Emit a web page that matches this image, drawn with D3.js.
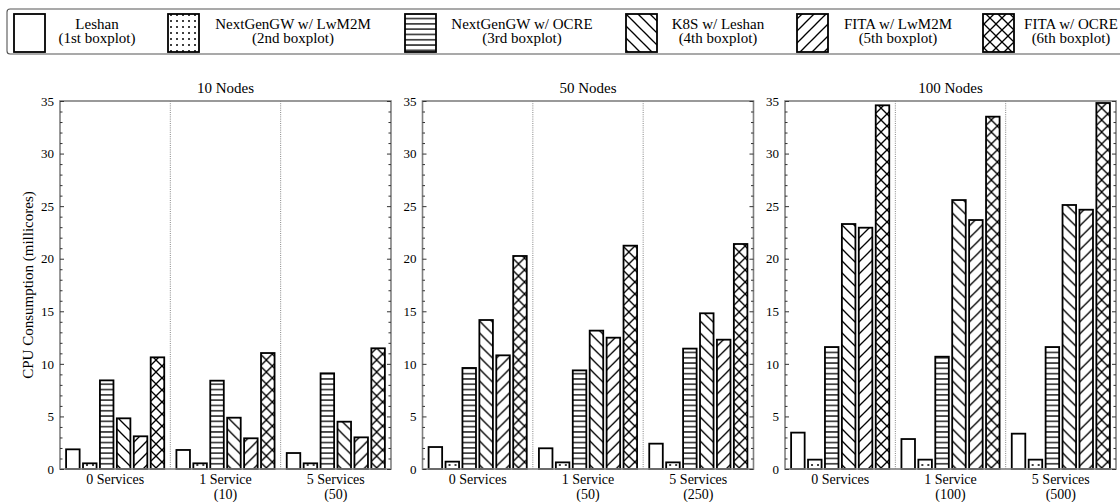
<!DOCTYPE html>
<html>
<head>
<meta charset="utf-8">
<script src="https://cdn.jsdelivr.net/npm/d3@7"></script>
<style>
  html, body { margin: 0; padding: 0; background: #fff; }
  svg { display: block; font-family: "Liberation Serif", "Times New Roman", serif; }
</style>
</head>
<body>
<svg id="chart" width="1120" height="502"></svg>
<script>
// ---- data -------------------------------------------------------------
const panels = ["10 Nodes", "50 Nodes", "100 Nodes"];
const groups = ["0 Services", "1 Service", "5 Services"];
const groupCounts = [
  ["", "(10)", "(50)"],
  ["", "(50)", "(250)"],
  ["", "(100)", "(500)"]
];
const series = ["Leshan", "NextGenGW w/ LwM2M", "NextGenGW w/ OCRE",
                "K8S w/ Leshan", "FITA w/ LwM2M", "FITA w/ OCRE"];
const seriesNotes = ["(1st boxplot)", "(2nd boxplot)", "(3rd boxplot)",
                     "(4th boxplot)", "(5th boxplot)", "(6th boxplot)"];
// CPU consumption (millicores): [panel][group][series]
const nodes10 = [
  [1.87, 0.54, 8.43, 4.82, 3.11, 10.62],
  [1.81, 0.54, 8.40, 4.88, 2.92, 11.03],
  [1.52, 0.54, 9.10, 4.50, 3.01, 11.48]
];
const nodes50 = [
  [2.09, 0.70, 9.61, 14.17, 10.81, 20.26],
  [1.97, 0.63, 9.38, 13.16, 12.49, 21.24],
  [2.41, 0.63, 11.45, 14.81, 12.30, 21.40]
];
const nodes100 = [
  [3.46, 0.89, 11.60, 23.30, 22.95, 34.59],
  [2.85, 0.89, 10.68, 25.58, 23.68, 33.51],
  [3.36, 0.89, 11.60, 25.11, 24.66, 34.81]
];
const values = [nodes10, nodes50, nodes100];
const yMax = 35;
const yMajorTicks = [0, 5, 10, 15, 20, 25, 30, 35];

// ---- layout -------------------------------------------------------------
const svg = d3.select("#chart");
const plotTop = 101, plotBottom = 469;
const frameColor = "#808080";

// hatch patterns for each series
const defs = svg.append("defs");
const patternIds = ["p-blank", "p-dots", "p-hlines", "p-back", "p-fwd", "p-cross"];
function pat(id, w, h) {
  const p = defs.append("pattern").attr("id", id)
    .attr("patternUnits", "userSpaceOnUse").attr("width", w).attr("height", h);
  p.append("rect").attr("width", w).attr("height", h).attr("fill", "#fff");
  return p;
}
pat("p-blank", 4, 4);
{
  const p = pat("p-dots", 6, 6);
  p.append("circle").attr("cx", 3).attr("cy", 3).attr("r", 1).attr("fill", "#000");
}
{
  const p = pat("p-hlines", 8, 5.3);
  p.append("line").attr("x1", 0).attr("x2", 8).attr("y1", 2.65).attr("y2", 2.65)
    .attr("stroke", "#000").attr("stroke-width", 1.3);
}
const hp = 12;
function diag(p, dir) {
  const segs = dir > 0
    ? [[0, hp, hp, 0], [-hp, hp, hp, -hp], [0, 2 * hp, 2 * hp, 0]]
    : [[0, 0, hp, hp], [-hp, 0, hp, 2 * hp], [0, -hp, 2 * hp, hp]];
  segs.forEach(s => p.append("line")
    .attr("x1", s[0]).attr("y1", s[1]).attr("x2", s[2]).attr("y2", s[3])
    .attr("stroke", "#000").attr("stroke-width", 1.3));
}
diag(pat("p-back", hp, hp), -1);
diag(pat("p-fwd", hp, hp), 1);
{
  const p = pat("p-cross", hp, hp);
  diag(p, 1); diag(p, -1);
}

// panel, group and bar scales
const xPanel = d3.scaleBand().domain(panels).range([60, 1116]).paddingInner(0.087);
const xGroup = d3.scaleBand().domain(groups).range([0, xPanel.bandwidth()]);
const xSeries = d3.scaleBand().domain(series).range([0, xGroup.bandwidth()])
  .paddingInner(0.2).paddingOuter(0.36);
const y = d3.scaleLinear().domain([0, yMax]).range([plotBottom, plotTop]);
const minorTicks = d3.range(0, yMax + 1).filter(v => v % 5 !== 0);

panels.forEach((name, pi) => {
  const x0 = xPanel(name);
  const pw = xPanel.bandwidth();
  const g = svg.append("g").attr("transform", `translate(${x0},0)`);

  // dotted separators between service groups
  groups.slice(1).forEach(gr => {
    g.append("line")
      .attr("x1", xGroup(gr)).attr("x2", xGroup(gr))
      .attr("y1", plotTop).attr("y2", plotBottom)
      .attr("stroke", "#777").attr("stroke-width", 0.9)
      .attr("stroke-dasharray", "1,1.2");
  });

  // bars
  groups.forEach((gr, gi) => {
    const gg = g.append("g").attr("transform", `translate(${xGroup(gr)},0)`);
    gg.selectAll("rect").data(values[pi][gi]).join("rect")
      .attr("x", (d, i) => xSeries(series[i]))
      .attr("y", d => y(d))
      .attr("width", xSeries.bandwidth())
      .attr("height", d => y(0) - y(d))
      .attr("fill", (d, i) => `url(#${patternIds[i]})`)
      .attr("stroke", "#000").attr("stroke-width", 1.8);

    // group labels
    const cx = xGroup(gr) + xGroup.bandwidth() / 2;
    g.append("text").attr("x", cx).attr("y", 483.5)
      .attr("text-anchor", "middle").attr("font-size", 14).text(gr);
    if (groupCounts[pi][gi]) {
      g.append("text").attr("x", cx).attr("y", 499)
        .attr("text-anchor", "middle").attr("font-size", 14).text(groupCounts[pi][gi]);
    }
  });

  // frame
  g.append("rect").attr("x", 0).attr("y", plotTop).attr("width", pw)
    .attr("height", plotBottom - plotTop)
    .attr("fill", "none").attr("stroke", frameColor).attr("stroke-width", 1.6);

  // y axis (left, labelled) with inward ticks
  const axL = g.append("g").call(
    d3.axisLeft(y).tickValues(yMajorTicks).tickSize(-4).tickPadding(6));
  axL.select(".domain").remove();
  axL.selectAll("line").attr("stroke", "#333");
  axL.selectAll("text").attr("font-size", 13).attr("font-family", "Liberation Serif, serif")
    .attr("fill", "#000");
  const axLm = g.append("g").call(
    d3.axisLeft(y).tickValues(minorTicks).tickSize(-2.5).tickFormat(""));
  axLm.select(".domain").remove();
  axLm.selectAll("line").attr("stroke", "#333");

  // mirrored ticks on the right edge
  const axR = g.append("g").attr("transform", `translate(${pw},0)`).call(
    d3.axisRight(y).tickValues(yMajorTicks).tickSize(-4).tickFormat(""));
  axR.select(".domain").remove();
  axR.selectAll("line").attr("stroke", "#333");
  const axRm = g.append("g").attr("transform", `translate(${pw},0)`).call(
    d3.axisRight(y).tickValues(minorTicks).tickSize(-2.5).tickFormat(""));
  axRm.select(".domain").remove();
  axRm.selectAll("line").attr("stroke", "#333");

  // panel title
  g.append("text").attr("x", pw / 2).attr("y", 93)
    .attr("text-anchor", "middle").attr("font-size", 15).text(name);
});

// y axis title
svg.append("text")
  .attr("transform", `translate(33,${(plotTop + plotBottom) / 2}) rotate(-90)`)
  .attr("text-anchor", "middle").attr("font-size", 15)
  .text("CPU Consumption (millicores)");

// ---- legend ---------------------------------------------------------------
const legendSwatchX = [14, 168, 405, 626, 797, 983];
const legendTextX = [97, 293, 522, 718, 898, 1071];
svg.append("rect").attr("x", 7).attr("y", 9).attr("width", 1130).attr("height", 45)
  .attr("rx", 3).attr("fill", "#fff").attr("stroke", "#555").attr("stroke-width", 1.1);
const leg = svg.append("g");
series.forEach((s, i) => {
  leg.append("rect").attr("x", legendSwatchX[i]).attr("y", 14)
    .attr("width", 31).attr("height", 38)
    .attr("fill", `url(#${patternIds[i]})`)
    .attr("stroke", "#000").attr("stroke-width", 1.8);
  leg.append("text").attr("x", legendTextX[i]).attr("y", 29)
    .attr("text-anchor", "middle").attr("font-size", 15).text(s);
  leg.append("text").attr("x", legendTextX[i]).attr("y", 43)
    .attr("text-anchor", "middle").attr("font-size", 15).text(seriesNotes[i]);
});
</script>
</body>
</html>
